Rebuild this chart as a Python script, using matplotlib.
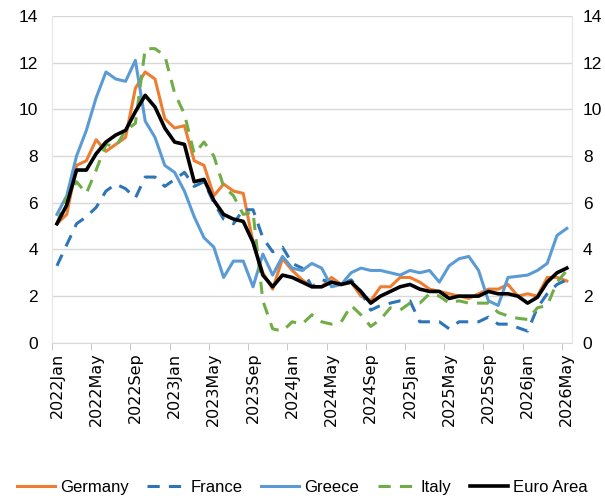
import matplotlib.pyplot as plt
import numpy as np

months = ["Jan", "Feb", "Mar", "Apr", "May", "Jun",
          "Jul", "Aug", "Sep", "Oct", "Nov", "Dec"]
labels = [f"{2022 + i // 12}{months[i % 12]}" for i in range(53)]

germany = [5.1, 5.5, 7.6, 7.8, 8.7, 8.2, 8.5, 8.8, 10.9, 11.6, 11.3, 9.6,
           9.2, 9.3, 7.8, 7.6, 6.3, 6.8, 6.5, 6.4, 4.3, 3.0, 2.3, 3.6,
           3.1, 2.7, 2.4, 2.4, 2.8, 2.5, 2.6, 2.0, 1.8, 2.4, 2.4, 2.8,
           2.8, 2.6, 2.3, 2.2, 2.1, 2.0, 1.9, 2.1, 2.3, 2.3, 2.5, 2.0,
           2.1, 2.0, 2.8, 2.8, 2.65]
france = [3.3, 4.2, 5.1, 5.4, 5.8, 6.5, 6.8, 6.6, 6.2, 7.1, 7.1, 6.7,
          7.0, 7.3, 6.7, 6.9, 6.0, 5.3, 5.1, 5.7, 5.7, 4.5, 3.9, 4.1,
          3.4, 3.2, 2.4, 2.7, 2.6, 2.5, 2.7, 2.2, 1.4, 1.6, 1.7, 1.8,
          1.8, 0.9, 0.9, 0.9, 0.6, 0.9, 0.9, 0.9, 1.1, 0.8, 0.8, 0.65,
          0.5, 1.5, 2.1, 2.5, 2.7]
greece = [5.5, 6.3, 8.0, 9.1, 10.5, 11.6, 11.3, 11.2, 12.1, 9.5, 8.8, 7.6,
          7.3, 6.5, 5.4, 4.5, 4.1, 2.8, 3.5, 3.5, 2.4, 3.8, 2.9, 3.7,
          3.2, 3.1, 3.4, 3.2, 2.4, 2.5, 3.0, 3.2, 3.1, 3.1, 3.0, 2.9,
          3.1, 3.0, 3.1, 2.6, 3.3, 3.6, 3.7, 3.1, 1.8, 1.6, 2.8, 2.85,
          2.9, 3.1, 3.4, 4.6, 4.9]
italy = [5.1, 6.2, 6.9, 6.4, 7.4, 8.5, 8.4, 9.1, 9.4, 12.6, 12.6, 12.3,
         10.7, 9.8, 8.1, 8.6, 8.0, 6.7, 6.3, 5.5, 5.6, 1.8, 0.6, 0.5,
         0.9, 0.8, 1.2, 0.9, 0.8, 0.9, 1.6, 1.2, 0.7, 1.0, 1.5, 1.4,
         1.7, 1.7, 2.1, 2.0, 1.7, 1.8, 1.7, 1.7, 1.7, 1.3, 1.15, 1.05,
         1.0, 1.5, 1.6, 2.6, 3.1]
euro_area = [5.1, 5.9, 7.4, 7.4, 8.1, 8.6, 8.9, 9.1, 9.9, 10.6, 10.1, 9.2,
             8.6, 8.5, 6.9, 7.0, 6.1, 5.5, 5.3, 5.2, 4.3, 2.9, 2.4, 2.9,
             2.8, 2.6, 2.4, 2.4, 2.6, 2.5, 2.6, 2.2, 1.7, 2.0, 2.2, 2.4,
             2.5, 2.3, 2.2, 2.2, 1.9, 2.0, 2.0, 2.0, 2.2, 2.1, 2.1, 2.0,
             1.7, 1.95, 2.6, 3.0, 3.2]

x = np.arange(len(labels))
sans = "Liberation Sans"

fig = plt.figure(figsize=(6.05, 4.99), dpi=100)
ax = fig.add_axes([0.086, 0.313, 0.859, 0.655])

lw = 2.2
ax.plot(x, germany, color="#ED7D31", lw=lw, label="Germany")
ax.plot(x, france, color="#2E75B6", lw=lw, ls=(0, (4, 3)), label="France")
ax.plot(x, greece, color="#5B9BD5", lw=lw, label="Greece")
ax.plot(x, italy, color="#70AD47", lw=lw, ls=(0, (4, 3)), label="Italy")
ax.plot(x, euro_area, color="black", lw=lw + 0.4, label="Euro Area")

ax.set_xlim(-0.5, len(labels) - 0.5)
ax.set_ylim(0, 14)
ax.set_yticks(range(0, 15, 2))
ax.grid(axis="y", color="#D9D9D9", lw=1)
ax.set_axisbelow(True)

# labels centred on categories, tick marks on category boundaries
ax.set_xticks(x[::4])
ax.set_xticklabels(labels[::4], rotation=90, fontsize=11.5,
                   family="DejaVu Sans")
ax.tick_params(axis="x", length=0, pad=7)
ax.set_xticks(np.arange(-0.5, len(labels), 4), minor=True)
ax.tick_params(axis="x", which="minor", length=5, color="#BFBFBF")

ax.tick_params(axis="y", length=0, pad=10, labelsize=12.5)
for t in ax.get_yticklabels():
    t.set_family(sans)

ax.spines["top"].set_visible(False)
ax.spines["bottom"].set_color("#D9D9D9")
ax.spines["left"].set_color("#E6E6E6")
ax.spines["right"].set_color("#E6E6E6")

ax2 = ax.twinx()
ax2.set_ylim(0, 14)
ax2.set_yticks(range(0, 15, 2))
ax2.tick_params(axis="y", length=0, pad=8, labelsize=12.5)
for t in ax2.get_yticklabels():
    t.set_family(sans)
for s in ["top", "left", "bottom"]:
    ax2.spines[s].set_visible(False)
ax2.spines["right"].set_color("#E6E6E6")

handles, names = ax.get_legend_handles_labels()
fig.legend(handles, names, loc="center", bbox_to_anchor=(0.5, 0.024),
           ncol=5, frameon=False, handlelength=2.3, columnspacing=1.1,
           handletextpad=0.3, prop={"family": sans, "size": 12})

fig.savefig("out.png", dpi=100)
